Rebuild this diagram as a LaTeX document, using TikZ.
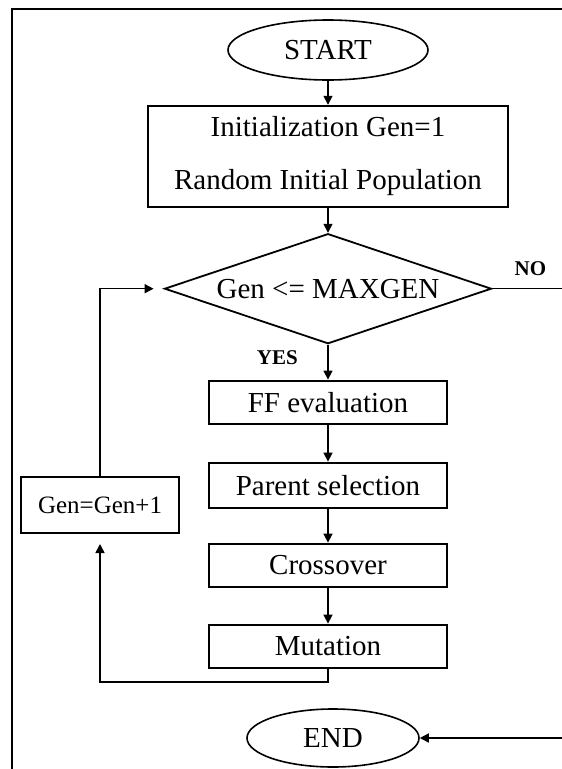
\documentclass[tikz,border=0pt]{standalone}
\usepackage{fontspec}
\setmainfont{Liberation Serif}
\usetikzlibrary{arrows.meta,positioning,shapes.geometric}
\tikzset{
  flow/.style={draw=black,line width=2pt,minimum height=43pt,align=center,inner sep=2pt,fill=white,text=black,font=\fontsize{29}{34}\selectfont},
  flowstep/.style={flow,minimum width=238pt},
  flowterm/.style={flow,ellipse,line width=1.6pt},
  flowcheck/.style={flow,diamond,aspect=3,inner sep=0pt,line width=1.8pt,minimum width=327pt,minimum height=110pt},
  tag/.style={font=\bfseries\fontsize{21}{24}\selectfont,inner sep=0pt},
  arrow/.style={-{Triangle[length=9pt,width=9pt]},line width=1.5pt,draw=black},
  frameline/.style={line width=2.5pt,draw=black}
}
\begin{document}
\begin{tikzpicture}[x=1pt,y=-1pt]
\useasboundingbox (0,0) rectangle (562,769);
\draw[frameline] (12,769) -- (12,9) -- (562,9);
% main column
\node[flowterm,minimum width=200pt,minimum height=60pt] (start) at (328,50) {START};
\node[flow,minimum width=360pt,minimum height=101pt,font=\fontsize{29}{53}\selectfont,below=24pt of start] (init) {Initialization Gen=1\\Random Initial Population};
\node[flowcheck,below=25pt of init] (check) {Gen <= MAXGEN};
\node[flowstep,below=35pt of check] (ffeval) {FF evaluation};
\node[flowstep,minimum height=45pt,below=37pt of ffeval] (parent) {Parent selection};
\node[flowstep,below=34pt of parent] (cross) {Crossover};
\node[flowstep,below=36pt of cross] (mutate) {Mutation};
\node[flow,minimum width=158pt,minimum height=56pt,font=\fontsize{25}{30}\selectfont] (incgen) at (100,505) {Gen=Gen+1};
\node[flowterm,minimum width=172pt,minimum height=58pt] (stop) at (333,738) {END};
\node[tag,below left=6pt and 30pt of check.south] (yes) {YES};
\node[tag,above right=13pt and 22pt of check.east] (no) {NO};
\coordinate (loopbot) at (100,682);
\coordinate[right=80pt of check.east] (rightrail);
\draw[arrow] (start) -- (init);\draw[arrow] (init) -- (check);\draw[arrow] (check) -- (ffeval);
\draw[arrow] (ffeval) -- (parent);\draw[arrow] (parent) -- (cross);\draw[arrow] (cross) -- (mutate);
% loop back
\draw[arrow,shorten >=10pt] (mutate.south) |- (loopbot) -- (incgen.south);
\draw[arrow,shorten >=10pt] (incgen.north) |- (check.west);
\draw[arrow] (check.east) -- (rightrail) |- (stop.east);
\end{tikzpicture}
\end{document}
